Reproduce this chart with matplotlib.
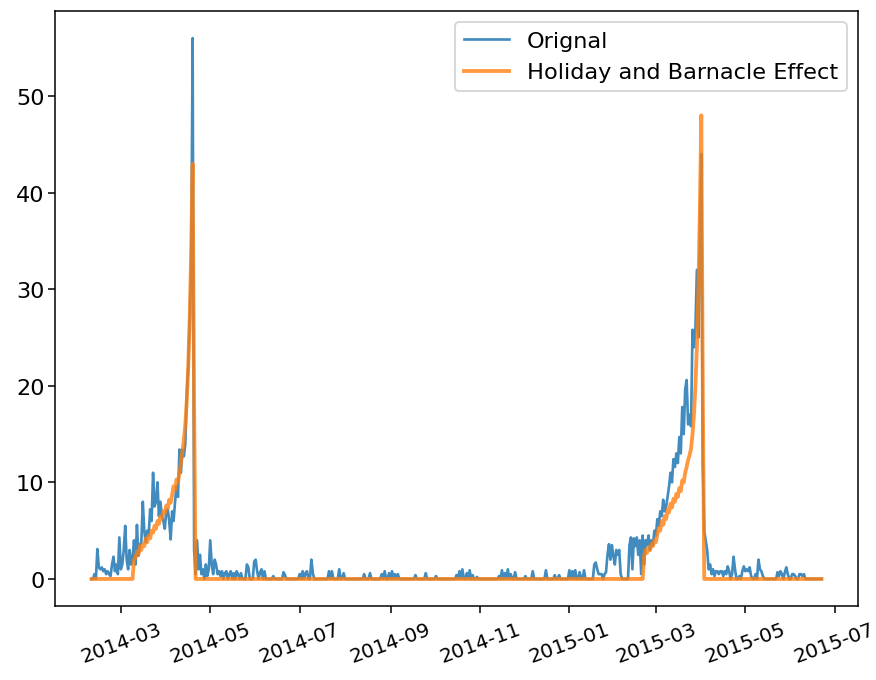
import numpy as np
import pandas as pd
import matplotlib
matplotlib.use("Agg")
import matplotlib.pyplot as plt

# daily counts
start_date = "2014-02-09"
end_date = "2015-06-22"

# original series, spring 2014 (from 2014-02-09)
orig_2014 = [0, 0, 0.5, 0, 3.1, 1.2, 1, 1.2, 0.8, 1,
             0.5, 0.8, 0.5, 0.3, 1.5, 2.3, 0.8, 1.5, 0.5, 4.3,
             1, 1.5, 3, 5.5, 2, 1, 3, 1.5, 2, 4,
             1.5, 5.6, 2.4, 3.5, 3.8, 8, 5, 3.8, 5, 4.5,
             7.2, 6, 11, 7.5, 8, 10, 6.5, 8, 6.5, 6,
             5.2, 7, 7.2, 6, 4.1, 7, 6, 8, 9.6, 8.5,
             13.4, 11, 13.4, 12.7, 14, 19, 22, 27, 32, 56,
             3, 0.5, 4, 1, 2.5, 0.5, 1, 0, 1.5, 0.3,
             1, 4, 1.5, 0.5, 2, 1.5, 0.5, 0.8, 0.3, 0.8,
             0, 0.6, 0.8, 0, 0.5, 0.8, 0, 0.6, 0, 0.8,
             0.5, 0, 0.6, 0]

# scattered small counts over summer / autumn 2014
spike_dates = ["2014-05-26", "2014-05-27", "2014-05-31", "2014-06-01", "2014-06-02",
               "2014-06-04", "2014-06-05", "2014-06-07", "2014-06-13", "2014-06-20",
               "2014-06-21", "2014-07-01", "2014-07-03", "2014-07-05", "2014-07-06",
               "2014-07-09", "2014-07-10", "2014-07-21", "2014-07-23", "2014-07-28",
               "2014-07-31", "2014-08-14", "2014-08-18", "2014-08-26", "2014-08-28",
               "2014-08-31", "2014-09-02", "2014-09-04", "2014-09-06", "2014-09-18",
               "2014-09-25", "2014-10-02", "2014-10-16", "2014-10-18", "2014-10-20",
               "2014-10-23", "2014-10-25", "2014-10-27", "2014-10-30", "2014-11-14",
               "2014-11-16", "2014-11-18", "2014-11-20", "2014-11-22", "2014-11-25",
               "2014-12-02", "2014-12-07", "2014-12-16", "2014-12-22", "2014-12-25",
               "2015-01-01", "2015-01-03", "2015-01-05", "2015-01-08", "2015-01-11"]
spike_values = [1.5, 1.2, 1.8, 2, 0.8,
                0.7, 1, 0.8, 0.3, 0.7,
                0.4, 0.5, 0.8, 0.6, 0.8,
                2, 0.6, 0.8, 0.8, 1,
                0.6, 0.5, 0.6, 0.5, 0.8,
                0.6, 0.8, 0.5, 0.5, 0.4,
                0.6, 0.3, 0.4, 0.8, 1,
                0.6, 0.9, 0.4, 0.2, 0.3,
                0.9, 0.6, 1, 0.5, 0.7,
                0.3, 0.8, 0.9, 0.4, 0.4,
                0.9, 0.8, 0.9, 0.7, 0.9]

# original series, spring 2015 (from 2015-01-17)
orig_2015_start = "2015-01-17"
orig_2015 = [0, 1.5, 1.7, 1, 0.5, 0.5, 0.5, 0, 0.5, 0.7,
             2.5, 3.6, 2, 3.5, 2.4, 1.5, 3, 2.5, 3, 0.5,
             0, 0, 0, 0, 0, 3.5, 4.3, 1, 4.2, 3.4,
             4.3, 2.5, 4, 0.5, 4.5, 1.5, 4, 3.5, 4.5, 3,
             4, 3.5, 5, 4.5, 6.2, 5.5, 7, 6.5, 8.2, 7,
             7.5, 8.5, 9.6, 11, 10, 12.4, 11.6, 13, 12, 14.7,
             13, 17.8, 15, 19.6, 20.6, 16, 17, 15.8, 25.8, 24,
             26, 32, 25, 35, 44, 12, 5, 4, 3, 1,
             1.5, 0.5, 1, 0.3, 0.8, 0.8, 0.5, 0.8, 0.8, 0.3,
             0.8, 0.5, 1.3, 0.8, 0, 0.5, 2.3, 1, 0, 0,
             0.3, 0, 0.8, 1.3, 0.8, 1, 0.8, 1.2, 0.3, 0,
             0, 0.5, 0, 2, 1, 0.8, 0.3, 0, 0, 0,
             0, 0, 0, 0, 0, 0, 0.7, 0.3, 0.8, 0.5,
             0, 0.7, 1.2, 0.5, 0, 0, 0.5, 0.5, 0.3, 0,
             0, 0.5, 0.5, 0.3, 0.5, 0, 0, 0, 0, 0,
             0, 0, 0, 0, 0, 0, 0]

# holiday and barnacle effect
holiday_2014_start = "2014-03-10"
holiday_2014 = [2, 2.2, 2.8, 2.5, 3.4, 3, 3.6, 3.4, 4.2, 3.8,
                4.5, 4.2, 5, 4.8, 5.5, 5.2, 6, 5.7, 6.5, 6.2,
                7, 6.8, 7.6, 7.3, 8.2, 7.9, 8.7, 9.6, 9.2, 10.3,
                10, 11, 12, 13.2, 14.4, 16, 18.5, 22, 27, 34,
                43, 18, 0]
holiday_2015_start = "2015-02-21"
holiday_2015 = [2.4, 3, 2.7, 3.3, 3, 3.6, 3.4, 4, 3.8, 4.6,
                5.3, 5, 6, 5.6, 6.5, 6.2, 7.2, 6.9, 7.8, 7.4,
                8.3, 8, 8.8, 8.5, 9.4, 9.1, 10.2, 10, 11, 11.6,
                12.3, 12.8, 13.5, 15, 17, 20, 24, 30, 38, 48,
                20, 0]


def fill_block(series, start, values):
    i = series.index.get_loc(pd.Timestamp(start))
    series.iloc[i:i + len(values)] = values


dates = pd.date_range(start_date, end_date, freq="D")

orig = pd.Series(0.0, index=dates)
fill_block(orig, start_date, orig_2014)
for d, v in zip(spike_dates, spike_values):
    orig[pd.Timestamp(d)] = v
fill_block(orig, orig_2015_start, orig_2015)

effect = pd.Series(0.0, index=dates)
fill_block(effect, holiday_2014_start, holiday_2014)
fill_block(effect, holiday_2015_start, holiday_2015)

plt.rcParams["font.size"] = 11.8
fig = plt.figure(figsize=(6.4, 4.975), dpi=136.875)
ax = fig.add_axes([55 / 876, 1 - 607 / 681, (858 - 55) / 876, (607 - 12) / 681])

ax.plot(orig.index, orig.values, color="C0", lw=1.4, alpha=0.85, label="Orignal")
ax.plot(effect.index, effect.values, color="C1", lw=2, alpha=0.8,
        label="Holiday and Barnacle Effect")

ax.legend(loc="upper right")
ax.tick_params(axis="y", pad=2)
ax.tick_params(axis="x", labelsize=10.6)
plt.setp(ax.get_xticklabels(), rotation=20)

fig.savefig("out.png")
